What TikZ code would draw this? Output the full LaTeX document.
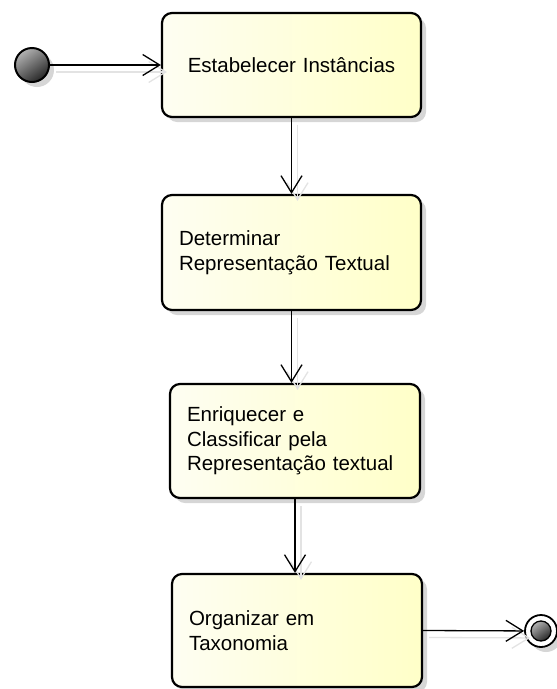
\documentclass[tikz,border=0pt]{standalone}
\usepackage{fontspec}
\setmainfont{Liberation Sans}
\usetikzlibrary{arrows.meta,shadows}
\definecolor{paleleft}{RGB}{254,254,242}
\definecolor{paleright}{RGB}{255,255,200}
\begin{document}
\begin{tikzpicture}[x=1pt,y=-1pt,
  activity/.style={draw=black, line width=2.2pt, rounded corners=10pt,
    left color=paleleft, right color=paleright,
    drop shadow={shadow xshift=5pt, shadow yshift=-5pt, fill=black!16, opacity=1},
    inner xsep=17pt, inner ysep=0pt, align=left,
    font=\fontsize{20.5}{24.5}\selectfont},
  tip/.style={-{Straight Barb[length=17pt,width=21pt,line width=1.3pt]}},
  flow/.style={draw=black, line width=1.3pt, tip},
  flowshade/.style={draw=black!11, line width=1.3pt, tip},
  pseudo/.style={circle, draw=black, inner sep=0pt,
    top color=black!30, bottom color=black!85, shading angle=35},
  softshadow/.style={drop shadow={shadow xshift=5pt, shadow yshift=-5pt,
    fill=black!16, opacity=1}}
]
\useasboundingbox (0,0) rectangle (557,689);

% activities
\node[activity, text width=225pt, minimum height=104pt, align=center] (b1) at (291.5,65)
  {Estabelecer Instâncias};
\node[activity, text width=225pt, minimum height=115pt] (b2) at (291.5,252.5)
  {Determinar\\Representação Textual};
\node[activity, text width=216pt, minimum height=114pt] (b3) at (295,441)
  {Enriquecer e\\Classificar pela\\Representação textual};
\node[activity, text width=216pt, minimum height=113pt] (b4) at (297,630.5)
  {Organizar em\\Taxonomia};

% initial and final states
\node[pseudo, line width=2pt, minimum size=34pt, softshadow] (start) at (32,65) {};
\node[circle, draw=black, line width=1.8pt, fill=white, minimum size=32pt, inner sep=0pt,
  softshadow] (end) at (541,631) {};
\node[pseudo, line width=1.3pt, minimum size=20pt] (endcore) at (end) {};

% faint offset copies of the flows
\begin{scope}[transform canvas={xshift=6pt, yshift=-7pt}]
  \draw[flowshade] (start) -- (b1);
  \draw[flowshade] (b1.south) -- (b1.south |- b2.north);
  \draw[flowshade] (b2.south) -- (b2.south |- b3.north);
  \draw[flowshade] (b3.south) -- (b3.south |- b4.north);
  \draw[flowshade] (b4.east) -- (end);
\end{scope}

% control flows
\draw[flow] (start) -- (b1);
\draw[flow] (b1.south) -- (b1.south |- b2.north);
\draw[flow] (b2.south) -- (b2.south |- b3.north);
\draw[flow] (b3.south) -- (b3.south |- b4.north);
\draw[flow] (b4.east) -- (end);
\end{tikzpicture}
\end{document}
